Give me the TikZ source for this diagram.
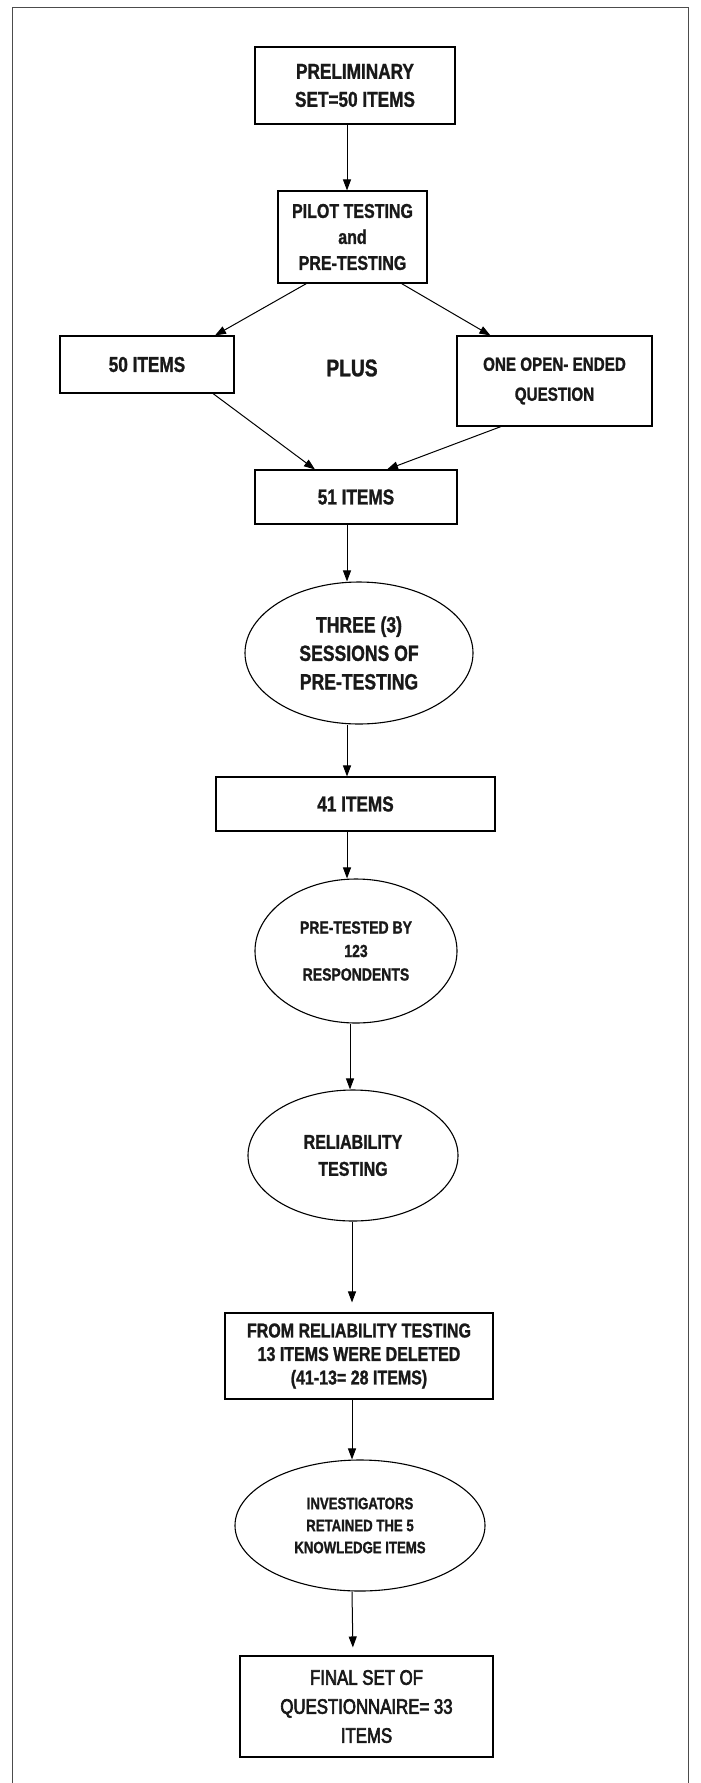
\documentclass[tikz,border=0pt]{standalone}
\usepackage{fontspec}
\setmainfont{Liberation Sans}[FakeStretch=0.8,BoldFeatures={FakeBold=1.2}]
\newfontfamily\midfont{Liberation Sans}[FakeStretch=0.8,FakeBold=3]
\usetikzlibrary{shapes.geometric,arrows.meta}
\newcommand{\fs}[2]{\fontsize{#1}{#2}\selectfont}
\tikzset{
	stepbox/.style={draw,rectangle,line width=1.1pt,inner sep=0pt,align=center,text=black!90,font=\bfseries\fs{21}{28}},
	stepoval/.style={draw,ellipse,line width=1.1pt,inner sep=0pt,align=center,text=black!90,font=\bfseries\fs{21}{28}},
	arr/.style={-{Triangle[length=11pt,width=8pt]},line width=1pt},
}
\begin{document}
\begin{tikzpicture}[x=1pt,y=-1pt]
	\useasboundingbox (0,0) rectangle (701,1783);
	% frame
	\draw[black!70,line width=1pt] (12,1783) -- (12,7.5) -- (688,7.5) -- (688,1783);
	% top part
	\node[stepbox,minimum width=200pt,minimum height=77pt,font=\bfseries\fs{21.5}{28}] (prelim) at (355,85.5) {PRELIMINARY\\SET=50 ITEMS};
	\node[stepbox,minimum width=149pt,minimum height=92pt,font=\bfseries\fs{20}{26}] (pilot) at (352.5,237) {PILOT TESTING\\and\\PRE-TESTING};
	\node[stepbox,minimum width=174pt,minimum height=57pt,font=\bfseries\fs{21.5}{28}] (fifty) at (147,364.5) {50 ITEMS};
	\node[text=black!90,font=\bfseries\fs{24}{28}] (plus) at (352,368) {PLUS};
	\node[stepbox,minimum width=195pt,minimum height=90pt,font=\bfseries\fs{19}{30}] (open) at (554.5,381) {ONE OPEN- ENDED\\QUESTION};
	\node[stepbox,minimum width=202pt,minimum height=54pt,font=\bfseries\fs{21.5}{28}] (fiftyone) at (356,497) {51 ITEMS};
	% middle part
	\node[stepoval,minimum width=228pt,minimum height=142pt,font=\bfseries\fs{22}{28.5}] (three) at (359,653) {THREE (3)\\SESSIONS OF\\PRE-TESTING};
	\node[stepbox,minimum width=279pt,minimum height=54pt,font=\bfseries\fs{21.5}{28}] (fortyone) at (355.5,804) {41 ITEMS};
	\node[stepoval,minimum width=202pt,minimum height=144pt,font=\bfseries\fs{17.5}{23.5}] (pretested) at (356,951) {PRE-TESTED BY\\123\\RESPONDENTS};
	\node[stepoval,minimum width=210pt,minimum height=131pt,font=\bfseries\fs{20}{27}] (reliab) at (353,1155.5) {RELIABILITY\\TESTING};
	% bottom part
	\node[stepbox,minimum width=268pt,minimum height=86pt,font=\bfseries\fs{20}{23.5}] (deleted) at (359,1356) {FROM RELIABILITY TESTING\\13 ITEMS WERE DELETED\\(41-13= 28 ITEMS)};
	\node[stepoval,minimum width=250pt,minimum height=131pt,font=\bfseries\fs{16.5}{22}] (retained) at (360,1525.5) {INVESTIGATORS\\RETAINED THE 5\\KNOWLEDGE ITEMS};
	\node[stepbox,minimum width=253pt,minimum height=101pt,font=\midfont\fs{21}{29}] (final) at (366.5,1706.5) {FINAL SET OF\\QUESTIONNAIRE= 33\\ITEMS};
	% arrows
	\draw[arr] ([xshift=-8pt]prelim.south) -- ([xshift=-5.5pt]pilot.north);
	\draw[arr] ([xshift=29pt]pilot.south west) -- ([xshift=68pt]fifty.north);
	\draw[arr] ([xshift=-26pt]pilot.south east) -- ([xshift=34pt]open.north west);
	\draw[arr] ([xshift=66pt]fifty.south) -- ([xshift=-41pt]fiftyone.north);
	\draw[arr] ([xshift=-53.5pt]open.south) -- ([xshift=31pt]fiftyone.north);
	\draw[arr] ([xshift=-9pt]fiftyone.south) -- ([xshift=-12pt]three.north);
	\draw[arr] ([xshift=-12pt]three.south) -- ([xshift=-8.5pt]fortyone.north);
	\draw[arr] ([xshift=-8.5pt]fortyone.south) -- ([xshift=-9pt]pretested.north);
	\draw[arr] ([xshift=-6pt]pretested.south) -- ([xshift=-3pt]reliab.north);
	\draw[arr,shorten >=10pt] ([xshift=-1pt]reliab.south) -- ([xshift=-7pt]deleted.north);
	\draw[arr] ([xshift=-7pt]deleted.south) -- ([xshift=-8pt]retained.north);
	\draw[arr,shorten >=8pt] ([xshift=-8pt]retained.south) -- ([xshift=-13.5pt]final.north);
\end{tikzpicture}
\end{document}
